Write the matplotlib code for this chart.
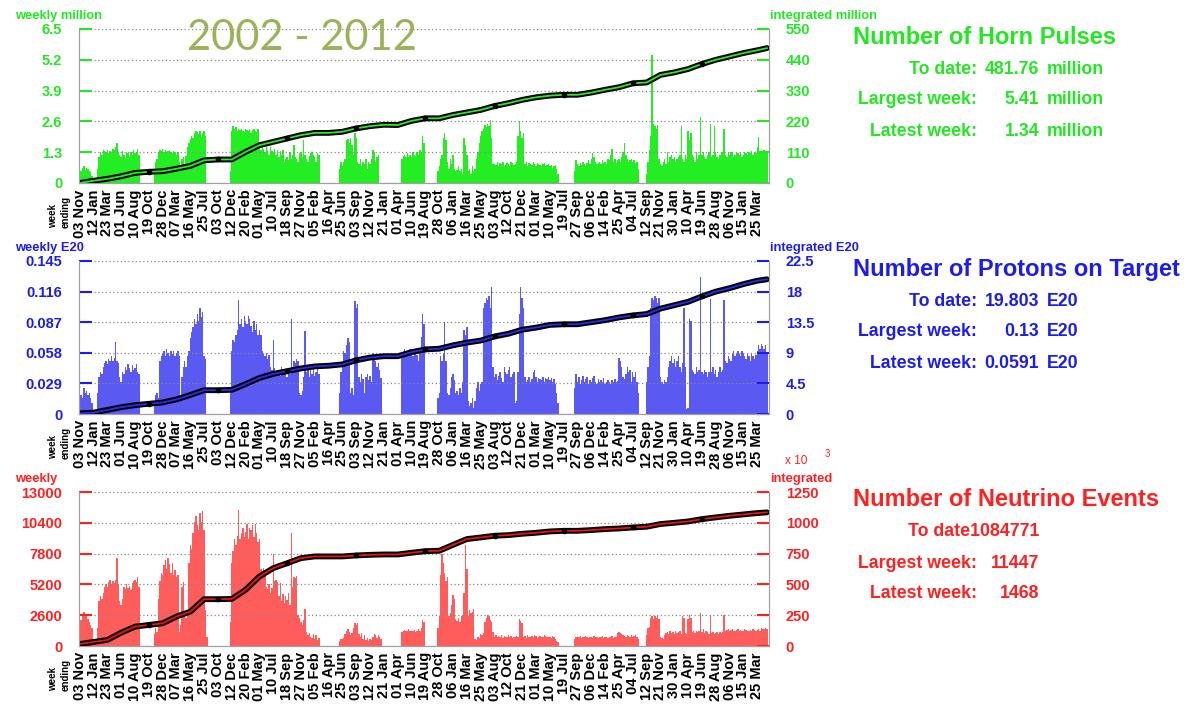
import numpy as np
import matplotlib.pyplot as plt

plt.rcParams['font.family'] = ['Liberation Sans', 'DejaVu Sans']
plt.rcParams['font.weight'] = 'bold'

W, H = 1188, 709

# x tick labels, one every 10 weeks ("week ending")
tick_labels = ['03 Nov', '12 Jan', '23 Mar', '01 Jun', '10 Aug', '19 Oct', '28 Dec', '07 Mar', '16 May', '25 Jul',
               '03 Oct', '12 Dec', '20 Feb', '01 May', '10 Jul', '18 Sep', '27 Nov', '05 Feb', '16 Apr', '25 Jun',
               '03 Sep', '12 Nov', '21 Jan', '01 Apr', '10 Jun', '19 Aug', '28 Oct', '06 Jan', '16 Mar', '25 May',
               '03 Aug', '12 Oct', '21 Dec', '01 Mar', '10 May', '19 Jul', '27 Sep', '06 Dec', '14 Feb', '25 Apr',
               '04 Jul', '12 Sep', '21 Nov', '30 Jan', '10 Apr', '19 Jun', '28 Aug', '06 Nov', '15 Jan', '25 Mar']

# Horn pulses per week (million)
horn_weekly = [
    0.35, 0.5, 0.62, 0.7, 0.55, 0.65, 0.6, 0.5, 0.45, 0.3,
    0.1, 0.05, 0.1, 0.6, 1.1, 1.3, 1.2, 1.4, 1.35, 1.3,
    1.4, 1.25, 1.35, 1.3, 1.45, 1.4, 1.5, 1.7, 1.3, 1.2,
    1.1, 1.35, 1.2, 1.05, 1.3, 1.25, 1.1, 1.3, 1.2, 1.4,
    1.25, 1.3, 1.45, 1.2, 0, 0, 0, 0, 0, 0,
    0, 0, 0, 0, 0.6, 0.9, 1.0, 1.3, 1.4, 1.35,
    1.45, 1.3, 1.4, 1.25, 1.35, 1.4, 1.3, 1.25, 1.35, 1.3,
    1.2, 1.3, 0.9, 0.7, 1.0, 1.1, 0.8, 1.15, 1.5, 1.7,
    1.85, 2.0, 1.9, 2.1, 2.2, 2.15, 2.05, 2.2, 1.95, 2.1,
    2.2, 2.0, 0, 0, 0, 0, 0, 0, 0, 0,
    0, 0, 0, 0, 0, 0, 0, 0, 0, 0.5,
    2.2, 2.4, 2.3, 2.35, 2.2, 2.3, 2.25, 2.3, 2.2, 2.15,
    2.3, 2.25, 2.2, 2.3, 2.1, 2.25, 2.3, 2.2, 2.15, 2.3,
    1.6, 1.4, 1.5, 1.45, 1.3, 1.55, 1.4, 1.2, 1.5, 1.35,
    1.3, 1.45, 1.2, 1.4, 1.1, 1.35, 1.2, 1.4, 0.9, 1.0,
    1.1, 0.95, 1.3, 1.0, 1.2, 1.6, 1.1, 1.0, 0.9, 1.25,
    1.3, 1.1, 1.8, 1.2, 1.0, 0.9, 1.15, 1.25, 1.3, 1.2,
    1.1, 0.9, 1.25, 1.2, 0, 0, 0, 0, 0, 0,
    0, 0, 0, 0, 0, 0, 0, 0, 0.6, 0.9,
    0.7, 0.9, 1.0, 1.8, 1.85, 1.7, 1.9, 1.6, 1.2, 2.1,
    1.9, 0.9, 0.8, 1.0, 0.7, 0.9, 0.8, 1.0, 0.6, 0.9,
    0.8, 1.0, 1.4, 1.3, 0.9, 1.1, 1.2, 0, 0, 0,
    0, 0, 0, 0, 0, 0, 0, 0, 0, 0,
    0, 0, 0, 1.0, 1.15, 1.2, 1.1, 1.25, 1.1, 1.2,
    1.1, 1.3, 1.2, 1.15, 1.3, 1.2, 1.4, 1.25, 2.0, 1.7,
    0, 0, 0, 0, 0, 0, 0, 0, 0, 0.5,
    0.7, 1.0, 1.2, 1.9, 2.1, 1.8, 0.9, 0.6, 1.0, 0.8,
    1.2, 0.6, 0.5, 0.55, 0.7, 0.5, 0.6, 0.4, 1.9, 1.6,
    1.2, 0.5, 0.6, 0.4, 0.7, 0.5, 0.6, 1.0, 1.3, 1.7,
    2.0, 2.2, 2.3, 2.45, 2.35, 2.5, 2.4, 2.65, 1.9, 0.8,
    0.8, 0.75, 0.9, 0.7, 0.85, 0.8, 0.9, 0.7, 0.75, 0.85,
    0.8, 0.7, 0.9, 0.85, 0.75, 0.8, 0.9, 2.0, 2.6, 2.2,
    1.9, 2.1, 0.8, 0.9, 0.7, 0.85, 0.8, 0.75, 0.9, 0.8,
    0.7, 0.85, 0.8, 0.75, 0.7, 0.8, 0.85, 0.7, 0.75, 0.8,
    0.7, 0.75, 0.65, 0.7, 0.75, 0.6, 0.4, 0, 0, 0,
    0, 0, 0, 0, 0, 0, 0, 0, 0.5, 0.95,
    0.8, 0.7, 0.85, 0.75, 0.9, 0.8, 0.7, 0.85, 0.95, 0.8,
    1.0, 1.25, 1.1, 0.9, 0.8, 0.85, 0.9, 0.8, 0.95, 0.85,
    0.9, 0.8, 1.0, 0.95, 1.2, 1.45, 0.9, 1.0, 0.85, 0.95,
    1.0, 0.9, 1.1, 1.3, 1.7, 1.2, 1.0, 0.9, 0.95, 1.0,
    0.9, 0.95, 0.85, 0.9, 0.6, 0, 0, 0, 0, 0,
    0.4, 0.9, 1.4, 2.0, 5.41, 2.5, 2.4, 2.3, 2.45, 1.0,
    0.8, 0.7, 0.9, 1.0, 0.8, 1.3, 0.9, 1.1, 1.2, 1.0,
    1.1, 0.9, 1.0, 1.1, 1.2, 2.4, 1.0, 0.9, 1.2, 1.0,
    2.2, 1.8, 2.1, 1.2, 1.1, 0.9, 1.3, 1.0, 1.2, 2.8,
    1.2, 1.3, 1.1, 1.0, 1.2, 1.3, 2.5, 1.1, 1.2, 2.4,
    1.3, 1.1, 1.0, 1.2, 1.25, 1.3, 2.3, 1.2, 1.1, 1.3,
    1.2, 1.3, 1.25, 1.1, 1.2, 1.3, 1.25, 1.2, 1.3, 1.1,
    1.2, 1.3, 1.25, 1.2, 1.3, 1.25, 1.35, 1.2, 1.3, 1.25,
    1.5, 1.95, 1.3, 1.35, 1.3, 1.4, 1.35, 1.34]

# Protons on target per week (E20)
pot_weekly = [
    0.012, 0.018, 0.015, 0.025, 0.02, 0.022, 0.018, 0.02, 0.015, 0.01,
    0.004, 0.002, 0.003, 0.02, 0.035, 0.04, 0.038, 0.045, 0.048, 0.05,
    0.047, 0.052, 0.05, 0.055, 0.05, 0.053, 0.068, 0.05, 0.048, 0.035,
    0.03, 0.04, 0.038, 0.045, 0.042, 0.047, 0.044, 0.04, 0.046, 0.042,
    0.044, 0.047, 0.04, 0.038, 0, 0, 0, 0, 0, 0,
    0, 0, 0, 0, 0.012, 0.018, 0.02, 0.015, 0.05, 0.055,
    0.058, 0.06, 0.055, 0.062, 0.058, 0.055, 0.06, 0.057, 0.06, 0.055,
    0.058, 0.06, 0.055, 0.015, 0.035, 0.045, 0.05, 0.045, 0.055, 0.06,
    0.072, 0.078, 0.082, 0.09, 0.085, 0.095, 0.088, 0.1, 0.092, 0.097,
    0.055, 0.052, 0, 0, 0, 0, 0, 0, 0, 0,
    0, 0, 0, 0, 0, 0, 0, 0, 0, 0.02,
    0.06, 0.07, 0.068, 0.075, 0.08, 0.108, 0.085, 0.09, 0.082, 0.093,
    0.088, 0.085, 0.093, 0.09, 0.083, 0.078, 0.088, 0.08, 0.085, 0.075,
    0.08, 0.075, 0.06, 0.057, 0.055, 0.058, 0.052, 0.056, 0.045, 0.042,
    0.07, 0.044, 0.04, 0.038, 0.042, 0.036, 0.045, 0.04, 0.038, 0.043,
    0.035, 0.04, 0.038, 0.09, 0.045, 0.05, 0.048, 0.052, 0.05, 0.02,
    0.018, 0.022, 0.035, 0.079, 0.04, 0.045, 0.035, 0.042, 0.038, 0.044,
    0.036, 0.04, 0.043, 0.038, 0, 0, 0, 0, 0, 0,
    0, 0, 0, 0, 0, 0, 0, 0, 0.02, 0.04,
    0.045, 0.06, 0.058, 0.065, 0.072, 0.068, 0.02, 0.025, 0.018, 0.107,
    0.1, 0.104, 0.035, 0.03, 0.038, 0.033, 0.02, 0.035, 0.038, 0.032,
    0.036, 0.03, 0.058, 0.055, 0.05, 0.045, 0.048, 0.042, 0.034, 0,
    0, 0, 0, 0, 0, 0, 0, 0, 0, 0,
    0, 0, 0, 0.055, 0.058, 0.062, 0.056, 0.06, 0.057, 0.062,
    0.058, 0.055, 0.06, 0.062, 0.056, 0.05, 0.06, 0.073, 0.095, 0.085,
    0, 0, 0, 0, 0, 0, 0, 0, 0, 0.015,
    0.02, 0.055, 0.05, 0.058, 0.087, 0.05, 0.02, 0.018, 0.025, 0.035,
    0.038, 0.032, 0.02, 0.022, 0.018, 0.025, 0.02, 0.03, 0.08, 0.075,
    0.082, 0.012, 0.008, 0.01, 0.015, 0.006, 0.012, 0.025, 0.03, 0.022,
    0.028, 0.03, 0.1, 0.105, 0.11, 0.108, 0.112, 0.1, 0.12, 0.045,
    0.035, 0.038, 0.032, 0.036, 0.04, 0.034, 0.03, 0.045, 0.04, 0.038,
    0.042, 0.045, 0.035, 0.038, 0.04, 0.01, 0.012, 0.04, 0.095, 0.12,
    0.11, 0.1, 0.035, 0.03, 0.032, 0.035, 0.03, 0.033, 0.04, 0.042,
    0.035, 0.03, 0.034, 0.033, 0.032, 0.035, 0.03, 0.034, 0.033, 0.035,
    0.032, 0.034, 0.03, 0.033, 0.028, 0.02, 0.01, 0, 0, 0,
    0, 0, 0, 0, 0, 0, 0, 0, 0.025, 0.038,
    0.03, 0.035, 0.028, 0.032, 0.036, 0.03, 0.033, 0.035, 0.028, 0.032,
    0.03, 0.034, 0.036, 0.03, 0.028, 0.033, 0.03, 0.032, 0.03, 0.034,
    0.028, 0.03, 0.032, 0.03, 0.028, 0.032, 0.03, 0.033, 0.03, 0.031,
    0.053, 0.05, 0.045, 0.035, 0.033, 0.038, 0.045, 0.04, 0.042, 0.03,
    0.04, 0.035, 0.04, 0.03, 0.02, 0, 0, 0, 0, 0,
    0.03, 0.045, 0.055, 0.1, 0.11, 0.108, 0.112, 0.11, 0.105, 0.11,
    0.035, 0.03, 0.028, 0.032, 0.03, 0.035, 0.045, 0.05, 0.055, 0.048,
    0.052, 0.045, 0.05, 0.055, 0.045, 0.04, 0.048, 0.1, 0.045, 0.005,
    0.006, 0.09, 0.088, 0.042, 0.04, 0.038, 0.045, 0.04, 0.042, 0.13,
    0.04, 0.038, 0.042, 0.04, 0.035, 0.04, 0.109, 0.04, 0.045, 0.038,
    0.042, 0.035, 0.04, 0.045, 0.04, 0.042, 0.108, 0.05, 0.048, 0.055,
    0.052, 0.05, 0.058, 0.06, 0.055, 0.058, 0.06, 0.057, 0.055, 0.06,
    0.058, 0.055, 0.052, 0.058, 0.055, 0.05, 0.057, 0.055, 0.052, 0.056,
    0.06, 0.065, 0.062, 0.066, 0.064, 0.062, 0.065, 0.0591]

# Neutrino events per week
nu_weekly = [
    1800, 2200, 2600, 2900, 2500, 2700, 2300, 2000, 1800, 1500,
    300, 150, 200, 1500, 3800, 4200, 4000, 4500, 5000, 5200,
    5000, 5400, 5600, 5200, 5500, 5300, 5600, 7400, 5200, 3800,
    3500, 4000, 5000, 4800, 5200, 4900, 5100, 4700, 5300, 5500,
    5600, 5400, 5800, 5000, 0, 0, 0, 0, 0, 0,
    0, 0, 0, 0, 1000, 1500, 1200, 4000, 5500, 6200,
    6000, 6800, 7300, 6500, 7400, 6900, 6200, 7000, 6000, 6400,
    5800, 6000, 1200, 1800, 5000, 5400, 2500, 2400, 2600, 7000,
    8500, 8200, 9500, 10500, 11000, 10200, 9800, 11200, 10500, 11400,
    9800, 3000, 800, 0, 0, 0, 0, 0, 0, 0,
    0, 0, 0, 0, 0, 0, 0, 0, 0, 2000,
    7000, 8000, 9000, 8500, 9300, 11447, 9000, 9500, 10000, 9200,
    9600, 10300, 9000, 10000, 9800, 10200, 9200, 10300, 9500, 8800,
    9000, 6500, 6300, 6600, 6200, 5000, 4800, 5200, 4500, 4900,
    7800, 5500, 5600, 5400, 4200, 5300, 3800, 4400, 3600, 4200,
    3900, 4500, 3500, 9500, 5000, 5800, 5700, 5900, 2600, 2400,
    2000, 1800, 2200, 3100, 1200, 900, 1100, 800, 700, 1000,
    600, 900, 500, 700, 0, 0, 0, 0, 0, 0,
    0, 0, 0, 0, 0, 0, 0, 0, 400, 600,
    600, 700, 1000, 1300, 1400, 1200, 900, 1100, 1500, 1900,
    1800, 1900, 1000, 800, 1100, 600, 900, 500, 700, 400,
    600, 500, 800, 1000, 900, 700, 950, 800, 600, 0,
    0, 0, 0, 0, 0, 0, 0, 0, 0, 0,
    0, 0, 0, 1200, 1300, 1350, 1250, 1300, 1400, 1300,
    1250, 1300, 1350, 1200, 1300, 1400, 1300, 1500, 2200, 2000,
    0, 0, 0, 0, 0, 0, 0, 0, 0, 1500,
    2500, 6000, 7800, 7000, 6200, 5500, 5800, 2500, 2800, 3500,
    4300, 4000, 2300, 2100, 2400, 2000, 2500, 2600, 4500, 8500,
    6500, 2500, 3000, 2800, 2900, 3100, 600, 500, 800, 700,
    1000, 900, 1100, 2000, 2400, 2600, 2500, 2200, 2000, 1200,
    800, 900, 750, 850, 800, 900, 700, 850, 800, 750,
    900, 800, 850, 700, 800, 750, 850, 800, 2250, 2100,
    1900, 800, 850, 700, 900, 800, 750, 850, 800, 900,
    850, 700, 800, 850, 750, 800, 900, 850, 800, 750,
    800, 700, 850, 800, 600, 400, 300, 0, 0, 0,
    0, 0, 0, 0, 0, 0, 0, 0, 600, 800,
    750, 800, 850, 700, 800, 750, 850, 800, 700, 750,
    800, 700, 850, 750, 800, 700, 750, 800, 850, 700,
    750, 800, 700, 750, 800, 850, 700, 750, 800, 1100,
    1200, 1100, 1000, 900, 850, 800, 900, 850, 800, 900,
    800, 850, 900, 750, 600, 0, 0, 0, 0, 0,
    900, 1500, 1600, 2400, 2500, 2300, 2550, 2400, 2500, 2300,
    800, 700, 600, 900, 1100, 1200, 1000, 1300, 1100, 1200,
    1000, 1250, 1100, 1200, 1300, 1000, 2500, 2400, 1100, 1000,
    2300, 2600, 2400, 1200, 1300, 1100, 1250, 1200, 1300, 2800,
    1200, 1400, 1100, 1300, 1200, 1000, 2600, 1100, 1200, 1000,
    1100, 1200, 1000, 1150, 1100, 1200, 2600, 1300, 1350, 1400,
    1300, 1350, 1400, 1300, 1250, 1350, 1400, 1300, 1350, 1250,
    1300, 1400, 1350, 1300, 1250, 1350, 1300, 1400, 1350, 1300,
    1350, 1400, 1300, 1500, 1450, 1400, 1500, 1468]

# Integrated totals read every 10 weeks (plus the last week)
integ_weeks = list(range(0, 491, 10)) + [497]
horn_integ = [0, 8, 15, 24, 36, 40, 42, 51, 61, 81,
              84, 84, 111, 135, 147, 159, 171, 179, 179, 183,
              195, 203, 208, 207, 222, 231, 231, 243, 252, 261,
              275, 285, 297, 306, 312, 315, 315, 323, 333, 342,
              356, 359, 386, 395, 407, 425, 440, 452, 464, 474, 481.76]
pot_integ = [0.1, 0.2, 0.6, 1.0, 1.3, 1.5, 1.7, 2.15, 2.8, 3.5,
             3.5, 3.55, 4.4, 5.3, 5.9, 6.3, 6.7, 7.0, 7.1, 7.3,
             7.9, 8.3, 8.5, 8.5, 9.1, 9.5, 9.6, 10.1, 10.5, 10.8,
             11.4, 11.8, 12.4, 12.7, 13.1, 13.2, 13.2, 13.5, 13.8, 14.2,
             14.5, 14.7, 15.5, 16.0, 16.5, 17.3, 18.0, 18.5, 19.1, 19.6, 19.803]
nu_integ = [16, 33, 49, 108, 157, 171, 184, 239, 279, 380,
            380, 382, 456, 564, 632, 672, 713, 727, 727, 727,
            735, 740, 743, 743, 757, 770, 773, 821, 868, 881,
            895, 900, 911, 919, 930, 935, 935, 941, 949, 954,
            962, 968, 990, 1000, 1011, 1030, 1044, 1057, 1068, 1079, 1084.771]

stat_labels = ['To date:', 'Largest week:', 'Latest week:']
horn_stats = ['481.76', '5.41', '1.34']
pot_stats = ['19.803', '0.13', '0.0591']
nu_stats = ['1084771', '11447', '1468']


def px(x, y):
    return x / W, 1 - y / H


fig = plt.figure(figsize=(W / 100, H / 100), dpi=100)
fig.patch.set_facecolor('white')

panels = [
    dict(weekly=horn_weekly, integ=horn_integ, top=29, bottom=183,
         lticks=[0, 1.3, 2.6, 3.9, 5.2, 6.5], llabels=['0', '1.3', '2.6', '3.9', '5.2', '6.5'],
         rticks=[0, 110, 220, 330, 440, 550], rlabels=['0', '110', '220', '330', '440', '550'],
         bar='#22ee22', text='#22e822', inner='#22ee22',
         lname='weekly million', rname='integrated million',
         title='Number of Horn Pulses', stats=horn_stats, unit='million'),
    dict(weekly=pot_weekly, integ=pot_integ, top=261, bottom=414,
         lticks=[0, 0.029, 0.058, 0.087, 0.116, 0.145],
         llabels=['0', '0.029', '0.058', '0.087', '0.116', '0.145'],
         rticks=[0, 4.5, 9, 13.5, 18, 22.5], rlabels=['0', '4.5', '9', '13.5', '18', '22.5'],
         bar='#5a5af2', text='#1c1cee', inner='#2a2af0',
         lname='weekly E20', rname='integrated E20',
         title='Number of Protons on Target', stats=pot_stats, unit='E20'),
    dict(weekly=nu_weekly, integ=nu_integ, top=492, bottom=646,
         lticks=[0, 2600, 5200, 7800, 10400, 13000],
         llabels=['0', '2600', '5200', '7800', '10400', '13000'],
         rticks=[0, 250, 500, 750, 1000, 1250], rlabels=['0', '250', '500', '750', '1000', '1250'],
         bar='#ff5c5c', text='#ff2020', inner='#ee1111',
         lname='weekly', rname='integrated',
         title='Number of Neutrino Events', stats=nu_stats, unit=None),
]

left, right = 79, 769
for p in panels:
    x0, y0 = px(left, p['bottom'])
    ax = fig.add_axes([x0, y0, (right - left) / W, (p['bottom'] - p['top']) / H])
    weeks = np.arange(len(p['weekly']))
    ax.bar(weeks, p['weekly'], width=1.0, color=p['bar'], linewidth=0)
    ax.set_xlim(-0.5, 498.5)
    ax.set_ylim(p['lticks'][0], p['lticks'][-1])
    ax.set_yticks(p['lticks'])
    ax.set_yticklabels(p['llabels'])
    ax.grid(axis='y', linestyle=(0, (1, 2)), color='#888888', linewidth=0.9)
    ax.set_axisbelow(False)
    ax.tick_params(axis='y', direction='in', length=9, width=1.5, color=p['text'],
                   labelcolor=p['text'], labelsize=10.5, pad=12)
    ax.set_xticks(np.arange(0, 491, 10))
    ax.set_xticklabels(tick_labels, rotation=90, fontsize=10.5)
    ax.tick_params(axis='x', length=0, pad=4.5)
    for s in ['left', 'right', 'bottom']:
        ax.spines[s].set_color('#a0a0a0')
    ax.spines['top'].set_visible(False)

    # integrated total on the right axis
    ax2 = ax.twinx()
    ax2.set_ylim(p['rticks'][0], p['rticks'][-1])
    ax2.set_yticks(p['rticks'])
    ax2.set_yticklabels(p['rlabels'])
    ax2.tick_params(axis='y', direction='in', length=9, width=1.5, color=p['text'],
                    labelcolor=p['text'], labelsize=10.5, pad=12)
    for s in ['left', 'right', 'bottom']:
        ax2.spines[s].set_color('#a0a0a0')
    ax2.spines['top'].set_visible(False)
    ax2.plot(integ_weeks, p['integ'], color='black', linewidth=4.2, solid_capstyle='round')
    ax2.plot(integ_weeks, p['integ'], color=p['inner'], linewidth=1.3)
    ax2.plot(integ_weeks[5:-1:5], p['integ'][5:-1:5], 'o', color='black', markersize=3)

    # axis names above the axes
    fig.text(*px(15, p['top'] - 13), p['lname'], color=p['text'], fontsize=9.3, va='center')
    fig.text(*px(770, p['top'] - 13), p['rname'], color=p['text'], fontsize=9.3, va='center')

    # "week ending" next to the first date
    fig.text(*px(53, p['bottom'] + 45), 'week', rotation=90, fontsize=7, ha='center', va='bottom')
    fig.text(*px(66, p['bottom'] + 45), 'ending', rotation=90, fontsize=7, ha='center', va='bottom')

    # summary text block
    fig.text(*px(853, p['top'] + 8), p['title'], color=p['text'], fontsize=17, va='center')
    for i, (lab, val) in enumerate(zip(stat_labels, p['stats'])):
        yy = p['top'] + 40 + 31 * i
        if p['unit'] is None and i == 0:
            fig.text(*px(1039, yy), 'To date' + val, color=p['text'], fontsize=12.8,
                     ha='right', va='center')
            continue
        fig.text(*px(977, yy), lab, color=p['text'], fontsize=12.8, ha='right', va='center')
        fig.text(*px(1039, yy), val, color=p['text'], fontsize=12.8, ha='right', va='center')
        if p['unit']:
            fig.text(*px(1047, yy), p['unit'], color=p['text'], fontsize=12.8, ha='left', va='center')

# scale note for the integrated neutrino axis
fig.text(*px(785, 461), 'x 10', color='#ff2020', fontsize=8.5, fontweight='normal', va='center')
fig.text(*px(825, 454), '3', color='#ff2020', fontsize=7, fontweight='normal', va='center')

# period title
fig.text(*px(302, 38), '2002 - 2012', color='#9bb25a', fontsize=30, fontweight='normal',
         family='Lato', ha='center', va='center')

fig.savefig('out.png', dpi=100, facecolor='white')
